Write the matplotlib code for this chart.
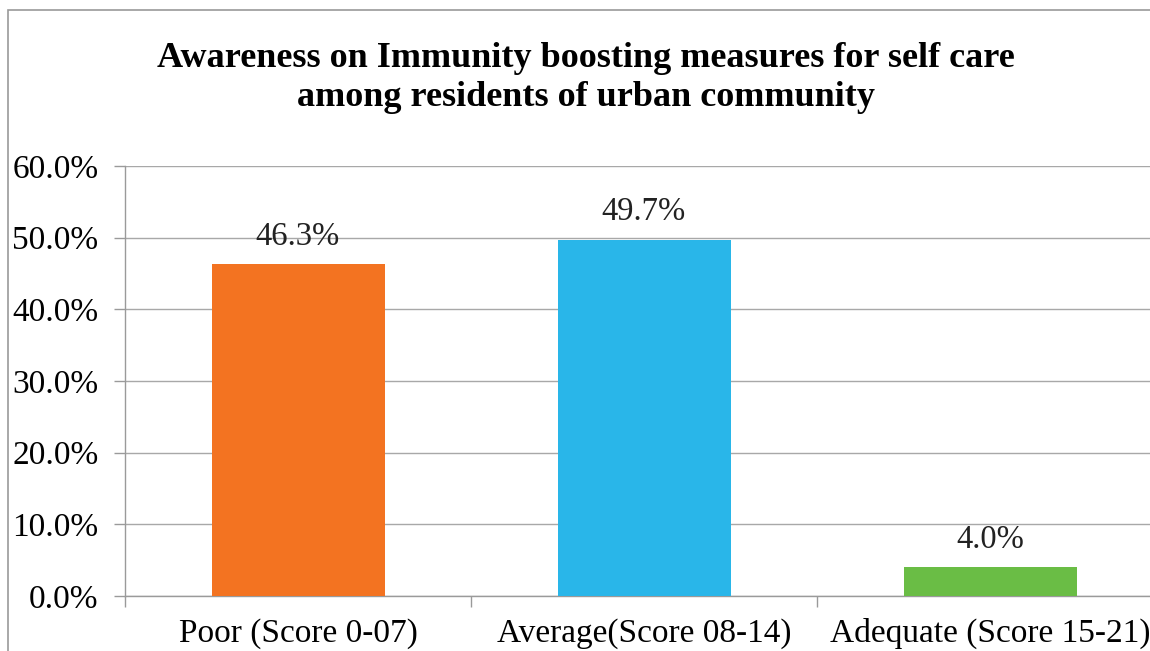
#!/usr/bin/env python3
"""Awareness on immunity boosting measures - bar chart."""

import matplotlib
matplotlib.use("Agg")
import matplotlib.pyplot as plt
from matplotlib.patches import Rectangle

categories = ["Poor (Score 0-07)", "Average(Score 08-14)", "Adequate (Score 15-21)"]
percent = [46.3, 49.7, 4.0]
bar_colors = ["#F37321", "#29B6E9", "#6ABD45"]
y_ticks = [0, 10, 20, 30, 40, 50, 60]

plt.rcParams["font.family"] = ["Liberation Serif", "DejaVu Serif"]

fig = plt.figure(figsize=(11.5, 6.51), dpi=100)

# grauer Rahmen um das ganze Diagramm
fig.patches.append(Rectangle((8 / 1150, -0.05), 1.2, 1 - 10 / 651 + 0.05,
                             transform=fig.transFigure, fill=False,
                             edgecolor="#9A9A9A", linewidth=1.2))

ax = fig.add_axes([125 / 1150, 1 - 596 / 651, 1038 / 1150, 430 / 651])

x = range(len(categories))
ax.bar(x, percent, width=0.5, color=bar_colors, zorder=3)

for xi, v in zip(x, percent):
    ax.annotate(f"{v:.1f}%", (xi, v), xytext=(0, 9), textcoords="offset points",
                ha="center", va="bottom", fontsize=23.5, color="#222222")

ax.set_xlim(-0.5, 2.5)
ax.set_ylim(0, 60)
ax.set_yticks(y_ticks)
ax.set_yticklabels([f"{t:.1f}%" for t in y_ticks], fontsize=24)
ax.yaxis.grid(True, color="#A8A8A8", linewidth=1, zorder=0)

ax.set_xticks([0, 1, 2])
ax.set_xticklabels(categories, fontsize=24)
ax.set_xticks([-0.5, 0.5, 1.5, 2.5], minor=True)
ax.tick_params(axis="x", which="major", length=0, pad=16)
ax.tick_params(axis="x", which="minor", length=8, color="#9A9A9A", width=1)
ax.tick_params(axis="y", length=8, color="#9A9A9A", width=1, pad=11)

for side in ["top", "right"]:
    ax.spines[side].set_visible(False)
for side in ["left", "bottom"]:
    ax.spines[side].set_color("#9A9A9A")
    ax.spines[side].set_linewidth(1)

fig.text(586 / 1150, 1 - 78 / 651,
         "Awareness on Immunity boosting measures for self care\namong residents of urban community",
         ha="center", va="center", fontsize=26, fontweight="bold", linespacing=1.25)

fig.savefig("out.png", dpi=100)
plt.close(fig)
